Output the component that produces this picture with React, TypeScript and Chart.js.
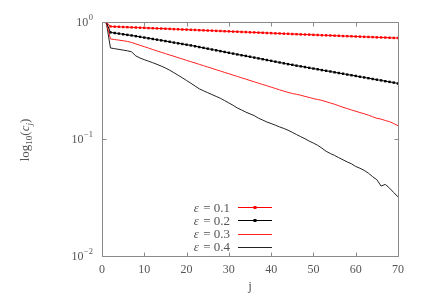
import React, { useEffect, useRef } from 'react';
import { Chart, registerables } from 'chart.js';
Chart.register(...registerables);

// j index (1..70)
const jValues = [
  1, 2, 3, 4, 5, 6, 7, 8, 9, 10, 11, 12, 13, 14, 15, 16, 17, 18, 19, 20,
  21, 22, 23, 24, 25, 26, 27, 28, 29, 30, 31, 32, 33, 34, 35, 36, 37, 38, 39, 40,
  41, 42, 43, 44, 45, 46, 47, 48, 49, 50, 51, 52, 53, 54, 55, 56, 57, 58, 59, 60,
  61, 62, 63, 64, 65, 66, 67, 68, 69, 70,
];

// log10(c_j)
const log10C_eps01 = [
  0, -0.038, -0.040, -0.041, -0.043, -0.044, -0.046, -0.047, -0.049, -0.050,
  -0.052, -0.053, -0.055, -0.056, -0.058, -0.059, -0.061, -0.062, -0.064, -0.065,
  -0.067, -0.068, -0.070, -0.071, -0.073, -0.074, -0.076, -0.077, -0.079, -0.080,
  -0.082, -0.083, -0.085, -0.086, -0.088, -0.089, -0.091, -0.092, -0.094, -0.095,
  -0.097, -0.098, -0.100, -0.101, -0.103, -0.104, -0.106, -0.107, -0.108, -0.110,
  -0.111, -0.113, -0.114, -0.115, -0.117, -0.118, -0.120, -0.121, -0.122, -0.124,
  -0.125, -0.127, -0.128, -0.129, -0.131, -0.132, -0.133, -0.135, -0.136, -0.137,
];
const log10C_eps02 = [
  0, -0.089, -0.094, -0.099, -0.105, -0.110, -0.115, -0.121, -0.127, -0.133,
  -0.139, -0.145, -0.151, -0.157, -0.163, -0.169, -0.176, -0.182, -0.188, -0.194,
  -0.200, -0.207, -0.214, -0.221, -0.228, -0.235, -0.242, -0.249, -0.256, -0.263,
  -0.270, -0.277, -0.284, -0.290, -0.297, -0.304, -0.311, -0.318, -0.325, -0.332,
  -0.339, -0.346, -0.353, -0.360, -0.366, -0.373, -0.379, -0.385, -0.392, -0.398,
  -0.404, -0.411, -0.417, -0.423, -0.430, -0.436, -0.442, -0.449, -0.455, -0.461,
  -0.468, -0.474, -0.480, -0.487, -0.493, -0.499, -0.506, -0.512, -0.518, -0.525,
];
const log10C_eps03 = [
  0, -0.145, -0.150, -0.155, -0.160, -0.166, -0.175, -0.187, -0.199, -0.211,
  -0.223, -0.235, -0.247, -0.259, -0.270, -0.282, -0.293, -0.305, -0.316, -0.328,
  -0.339, -0.350, -0.362, -0.373, -0.385, -0.396, -0.408, -0.419, -0.431, -0.442,
  -0.454, -0.465, -0.477, -0.488, -0.500, -0.511, -0.523, -0.534, -0.545, -0.557,
  -0.568, -0.580, -0.591, -0.602, -0.611, -0.618, -0.626, -0.636, -0.645, -0.655,
  -0.662, -0.670, -0.681, -0.692, -0.703, -0.716, -0.729, -0.740, -0.752, -0.763,
  -0.774, -0.784, -0.796, -0.810, -0.823, -0.830, -0.842, -0.852, -0.868, -0.886,
];
const log10C_eps04 = [
  0, -0.222, -0.228, -0.234, -0.240, -0.246, -0.255, -0.290, -0.308, -0.322,
  -0.335, -0.348, -0.362, -0.377, -0.393, -0.412, -0.433, -0.455, -0.477, -0.500,
  -0.523, -0.547, -0.571, -0.588, -0.604, -0.620, -0.636, -0.652, -0.672, -0.692,
  -0.712, -0.735, -0.752, -0.770, -0.785, -0.800, -0.822, -0.838, -0.855, -0.868,
  -0.882, -0.897, -0.910, -0.925, -0.943, -0.962, -0.980, -0.998, -1.018, -1.035,
  -1.054, -1.078, -1.105, -1.124, -1.140, -1.160, -1.178, -1.196, -1.212, -1.235,
  -1.250, -1.268, -1.292, -1.322, -1.348, -1.402, -1.388, -1.420, -1.458, -1.495,
];

const seriesLabels = ['0.1', '0.2', '0.3', '0.4'];
const seriesColors = ['#ff0000', '#000000', '#ff2020', '#222222'];
const seriesHasPoints = [true, true, false, false];
const xTickValues = [0, 10, 20, 30, 40, 50, 60, 70];
const yTickValues = [1, 0.1, 0.01];
const yTickExponents = ['0', '−1', '−2'];

const FONT = '"Liberation Serif", "DejaVu Serif", serif';
const TEXT = '#555555';
const AXIS = '#8a8a8a';

const decorations = {
  id: 'decorations',
  afterDraw(chart: any) {
    const { ctx, chartArea: a, scales } = chart;
    const xs = scales.x;
    const ys = scales.y;
    ctx.save();
    // frame
    ctx.strokeStyle = AXIS;
    ctx.lineWidth = 1;
    const L = Math.round(a.left) + 0.5;
    const R = Math.round(a.right) + 0.5;
    const T = Math.round(a.top) + 0.5;
    const B = Math.round(a.bottom) + 0.5;
    ctx.beginPath();
    ctx.moveTo(L, T); ctx.lineTo(R, T); ctx.lineTo(R, B); ctx.lineTo(L, B); ctx.closePath();
    // inward ticks
    xTickValues.forEach((v) => {
      const px = Math.round(xs.getPixelForValue(v)) + 0.5;
      ctx.moveTo(px, B); ctx.lineTo(px, B - 4);
      ctx.moveTo(px, T); ctx.lineTo(px, T + 4);
    });
    yTickValues.forEach((v) => {
      const py = Math.round(ys.getPixelForValue(v)) + 0.5;
      ctx.moveTo(L, py); ctx.lineTo(L + 4, py);
      ctx.moveTo(R, py); ctx.lineTo(R - 4, py);
    });
    ctx.stroke();

    ctx.fillStyle = TEXT;
    // x tick labels
    ctx.font = `12px ${FONT}`;
    ctx.textAlign = 'center';
    ctx.textBaseline = 'alphabetic';
    xTickValues.forEach((v) => {
      ctx.fillText(String(v), xs.getPixelForValue(v), a.bottom + 17);
    });
    // y tick labels 10^k
    yTickValues.forEach((v, i) => {
      const py = ys.getPixelForValue(v);
      ctx.font = `8.5px ${FONT}`;
      const ew = ctx.measureText(yTickExponents[i]).width;
      ctx.font = `12px ${FONT}`;
      const bw = ctx.measureText('10').width;
      const right = a.left - 9;
      ctx.textAlign = 'left';
      ctx.fillText('10', right - ew - bw - 0.5, py + 4);
      ctx.font = `8.5px ${FONT}`;
      ctx.fillText(yTickExponents[i], right - ew, py - 2);
    });
    // x title
    ctx.font = `13px ${FONT}`;
    ctx.textAlign = 'center';
    ctx.fillText('j', (a.left + a.right) / 2, 290);
    // y title: log10(c_j)
    ctx.save();
    ctx.translate(29, 140);
    ctx.rotate(-Math.PI / 2);
    const parts: [string, string, number][] = [
      ['log', `13px ${FONT}`, 0],
      ['10', `9px ${FONT}`, 3],
      ['(', `13px ${FONT}`, 0],
      ['c', `italic 13px ${FONT}`, 0],
      ['j', `italic 9px ${FONT}`, 3],
      [')', `13px ${FONT}`, 0],
    ];
    let total = 0;
    parts.forEach(([s, f]) => { ctx.font = f; total += ctx.measureText(s).width; });
    let cx = -total / 2;
    ctx.textAlign = 'left';
    parts.forEach(([s, f, dy]) => {
      ctx.font = f;
      ctx.fillText(s, cx, dy);
      cx += ctx.measureText(s).width;
    });
    ctx.restore();

    // legend
    const rowY0 = 207.3;
    const rowH = 13.1;
    const textRight = 230;
    const lineX0 = 238;
    const lineX1 = 272;
    seriesLabels.forEach((lab, i) => {
      const y = rowY0 + i * rowH;
      ctx.fillStyle = TEXT;
      ctx.textAlign = 'left';
      ctx.font = `13px ${FONT}`;
      const rest = ' = ' + lab;
      const rw = ctx.measureText(rest).width;
      ctx.fillText(rest, textRight - rw, y + 4.7);
      ctx.font = `italic 13px ${FONT}`;
      const ew = ctx.measureText('ε').width;
      ctx.fillText('ε', textRight - rw - ew - 1, y + 4.7);
      ctx.strokeStyle = seriesColors[i];
      ctx.lineWidth = 1;
      ctx.beginPath();
      ctx.moveTo(lineX0, Math.round(y) + 0.5);
      ctx.lineTo(lineX1, Math.round(y) + 0.5);
      ctx.stroke();
      if (seriesHasPoints[i]) {
        ctx.fillStyle = seriesColors[i];
        ctx.fillRect((lineX0 + lineX1) / 2 - 1.5, Math.round(y) - 1, 3, 3);
      }
    });
    ctx.restore();
  },
};

function toPoints(logs: number[]) {
  return jValues.map((j, i) => ({ x: j, y: Math.pow(10, logs[i]) }));
}

export default function App() {
  const ref = useRef<HTMLCanvasElement | null>(null);
  useEffect(() => {
    if (!ref.current) return;
    const logs = [log10C_eps01, log10C_eps02, log10C_eps03, log10C_eps04];
    const chart = new Chart(ref.current, {
      type: 'line',
      data: {
        datasets: logs.map((lg, i) => ({
          label: 'ε = ' + seriesLabels[i],
          data: toPoints(lg),
          borderColor: seriesColors[i],
          backgroundColor: seriesColors[i],
          borderWidth: 1,
          pointStyle: 'rect',
          pointRadius: seriesHasPoints[i] ? 1.7 : 0,
          pointBackgroundColor: seriesColors[i],
          pointBorderWidth: 0,
        })),
      },
      options: {
        responsive: false,
        animation: false,
        layout: { padding: { left: 0, top: 22, right: 38, bottom: 0 } },
        plugins: { legend: { display: false }, tooltip: { enabled: false } },
        scales: {
          x: {
            type: 'linear', min: 0, max: 70,
            grid: { display: false }, border: { display: false },
            ticks: { display: false },
            afterFit: (s: any) => { s.height = 40; },
          },
          y: {
            type: 'logarithmic', min: 0.01, max: 1,
            grid: { display: false }, border: { display: false },
            ticks: { display: false },
            afterFit: (s: any) => { s.width = 102; },
          },
        },
      },
      plugins: [decorations],
    });
    return () => chart.destroy();
  }, []);
  return (
    <div style={{ position: 'fixed', left: 0, top: 0, width: 436, height: 296, background: '#fff' }}>
      <canvas ref={ref} width={436} height={296} />
    </div>
  );
}
